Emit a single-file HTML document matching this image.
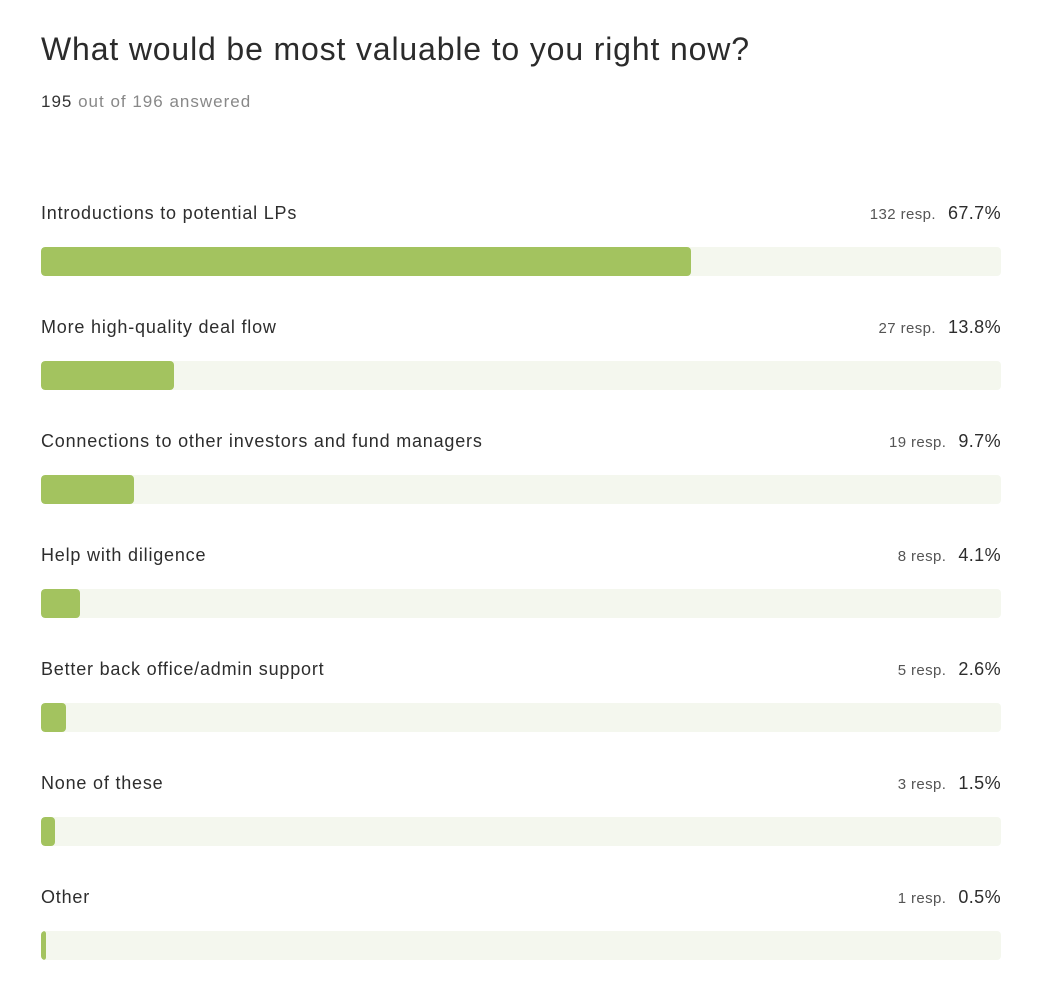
<!DOCTYPE html>
<html><head><meta charset="utf-8"><style>
body{margin:0;background:#fff;width:1042px;height:1000px;overflow:hidden;font-family:"Liberation Sans",sans-serif;color:#2d2d2d}
h1{position:absolute;left:41px;top:31px;margin:0;font-weight:normal;font-size:32px;color:#2b2b2b;letter-spacing:0.85px}
.sub{position:absolute;left:41px;top:92px;font-size:17px;color:#888;letter-spacing:1px}
.sub b{font-weight:normal;color:#333}
.row{position:absolute;left:41px;width:960px}
.lab{position:absolute;left:0;top:0;font-size:18px;color:#2d2d2d;letter-spacing:0.8px}
.r{position:absolute;right:0;top:0;font-size:18px;white-space:nowrap;letter-spacing:0.4px}
.r span{font-size:15px;color:#555;margin-right:12px}
.track{position:absolute;left:0;top:44px;width:960px;height:29px;background:#f4f7ee;border-radius:4px;overflow:hidden}
.fill{height:100%;background:#a3c35f;border-radius:4px}
</style></head><body>
<h1>What would be most valuable to you right now?</h1>
<div class="sub"><b>195</b> out of 196 answered</div>
<div class="row" style="top:203px"><div class="lab">Introductions to potential LPs</div><div class="r"><span>132 resp.</span>67.7%</div><div class="track"><div class="fill" style="width:650px"></div></div></div>
<div class="row" style="top:317px"><div class="lab">More high-quality deal flow</div><div class="r"><span>27 resp.</span>13.8%</div><div class="track"><div class="fill" style="width:133px"></div></div></div>
<div class="row" style="top:431px"><div class="lab">Connections to other investors and fund managers</div><div class="r"><span>19 resp.</span>9.7%</div><div class="track"><div class="fill" style="width:93px"></div></div></div>
<div class="row" style="top:545px"><div class="lab">Help with diligence</div><div class="r"><span>8 resp.</span>4.1%</div><div class="track"><div class="fill" style="width:39px"></div></div></div>
<div class="row" style="top:659px"><div class="lab">Better back office/admin support</div><div class="r"><span>5 resp.</span>2.6%</div><div class="track"><div class="fill" style="width:25px"></div></div></div>
<div class="row" style="top:773px"><div class="lab">None of these</div><div class="r"><span>3 resp.</span>1.5%</div><div class="track"><div class="fill" style="width:14px"></div></div></div>
<div class="row" style="top:887px"><div class="lab">Other</div><div class="r"><span>1 resp.</span>0.5%</div><div class="track"><div class="fill" style="width:5px"></div></div></div>
</body></html>
